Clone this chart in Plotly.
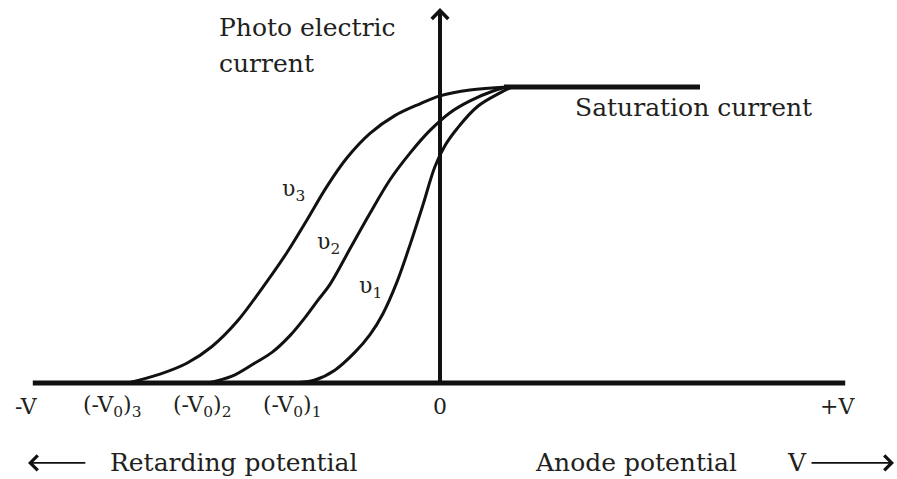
import plotly.graph_objects as go

# ---- data (V in arbitrary units, 0 at anode-potential origin; I in arbitrary units) ----
v3_volt = [-7.8, -7.0, -6.33, -5.7, -5.08, -4.43, -3.83, -3.33, -2.83, -2.33, -1.75, -1.13, -0.5, 0.0, 0.75, 1.68]
v3_curr = [0.0, 0.09, 0.2, 0.37, 0.62, 0.97, 1.32, 1.65, 1.99, 2.28, 2.53, 2.71, 2.83, 2.91, 2.97, 3.0]

v2_volt = [-5.8, -5.2, -4.68, -4.2, -3.75, -3.38, -3.05, -2.75, -2.25, -1.75, -1.25, -0.75, -0.25, 0.25, 0.75, 1.33, 1.68]
v2_curr = [0.0, 0.07, 0.19, 0.31, 0.48, 0.66, 0.84, 1.0, 1.36, 1.72, 2.06, 2.33, 2.56, 2.74, 2.86, 2.96, 3.0]

v1_volt = [-3.63, -3.13, -2.63, -2.13, -1.75, -1.43, -1.08, -0.75, -0.43, -0.13, 0.13, 0.43, 0.93, 1.5, 1.8]
v1_curr = [0.0, 0.03, 0.13, 0.31, 0.49, 0.7, 1.02, 1.4, 1.8, 2.19, 2.41, 2.58, 2.8, 2.94, 3.0]

sat_volt = [1.6, 6.5]
sat_curr = [3.0, 3.0]

axis_v_min, axis_v_max = -10.18, 10.13
axis_i_max = 3.80

tick_vals = [-10.33, -8.18, -5.95, -3.7, 0.0, 9.93]
tick_text = ["-V", "(-V<sub>0</sub>)<sub>3</sub>", "(-V<sub>0</sub>)<sub>2</sub>",
             "(-V<sub>0</sub>)<sub>1</sub>", "0", "+V"]

curve_labels = ["υ<sub>3</sub>", "υ<sub>2</sub>", "υ<sub>1</sub>"]
curve_label_v = [-3.66, -2.78, -1.73]
curve_label_i = [1.95, 1.41, 0.97]

INK = "#111111"
TXT = "#231f20"
FONT = "DejaVu Serif"

fig = go.Figure()
for vv, ii in [(v3_volt, v3_curr), (v2_volt, v2_curr), (v1_volt, v1_curr)]:
    fig.add_trace(go.Scatter(x=vv, y=ii, mode="lines",
                             line=dict(color=INK, width=3, shape="spline", smoothing=1.0,
                                       simplify=False),
                             hoverinfo="skip", showlegend=False))
fig.add_trace(go.Scatter(x=sat_volt, y=sat_curr, mode="lines",
                         line=dict(color=INK, width=5), hoverinfo="skip", showlegend=False))

# baseline (V axis)
fig.add_shape(type="line", x0=axis_v_min, x1=axis_v_max, y0=0, y1=0,
              line=dict(color=INK, width=5), layer="above")

ann = []
# vertical axis with arrow
ann.append(dict(x=0, y=axis_i_max, ax=0, ay=0, xref="x", yref="y", axref="x", ayref="y",
                text="", showarrow=True, arrowhead=4, arrowsize=0.8, arrowwidth=4,
                arrowcolor=INK, standoff=0, startstandoff=0))
# tick labels
for tv, tt in zip(tick_vals, tick_text):
    ann.append(dict(x=tv, y=-0.24, xref="x", yref="y", text=tt, showarrow=False,
                    xanchor="center", yanchor="middle",
                    font=dict(family=FONT, size=22, color=TXT)))
# curve labels
for lv, li, lt in zip(curve_label_v, curve_label_i, curve_labels):
    ann.append(dict(x=lv, y=li, xref="x", yref="y", text=lt, showarrow=False,
                    xanchor="center", yanchor="middle",
                    font=dict(family=FONT, size=22, color=TXT)))
# axis titles
ann.append(dict(x=-5.58, y=3.60, xref="x", yref="y", text="Photo electric", showarrow=False,
                xanchor="left", yanchor="middle", font=dict(family=FONT, size=25, color=TXT)))
ann.append(dict(x=-5.58, y=3.24, xref="x", yref="y", text="current", showarrow=False,
                xanchor="left", yanchor="middle", font=dict(family=FONT, size=25, color=TXT)))
ann.append(dict(x=3.33, y=2.79, xref="x", yref="y", text="Saturation current", showarrow=False,
                xanchor="left", yanchor="middle", font=dict(family=FONT, size=25, color=TXT)))
ann.append(dict(x=-5.14, y=-0.81, xref="x", yref="y", text="Retarding potential", showarrow=False,
                xanchor="center", yanchor="middle", font=dict(family=FONT, size=25, color=TXT)))
ann.append(dict(x=2.33, y=-0.81, xref="x", yref="y", text="Anode potential", showarrow=False,
                xanchor="left", yanchor="middle", font=dict(family=FONT, size=25, color=TXT)))
ann.append(dict(x=8.93, y=-0.81, xref="x", yref="y", text="V", showarrow=False,
                xanchor="center", yanchor="middle", font=dict(family=FONT, size=25, color=TXT)))
# direction arrows
ann.append(dict(x=-10.3, y=-0.81, ax=-8.83, ay=-0.81, xref="x", yref="y", axref="x", ayref="y",
                text="", showarrow=True, arrowhead=4, arrowsize=1.6, arrowwidth=1.8,
                arrowcolor=INK, standoff=0, startstandoff=0))
ann.append(dict(x=11.35, y=-0.81, ax=9.25, ay=-0.81, xref="x", yref="y", axref="x", ayref="y",
                text="", showarrow=True, arrowhead=4, arrowsize=1.6, arrowwidth=1.8,
                arrowcolor=INK, standoff=0, startstandoff=0))

fig.update_layout(
    width=897, height=479,
    margin=dict(l=0, r=0, t=0, b=0),
    paper_bgcolor="white", plot_bgcolor="white",
    xaxis=dict(range=[-11.0, 11.425], visible=False, fixedrange=True),
    yaxis=dict(range=[-0.973, 3.882], visible=False, fixedrange=True),
    annotations=ann,
    showlegend=False,
)

fig.write_html("out.html", config={"displayModeBar": False},
               post_script="document.body.style.margin='0';document.body.style.overflow='hidden';")
